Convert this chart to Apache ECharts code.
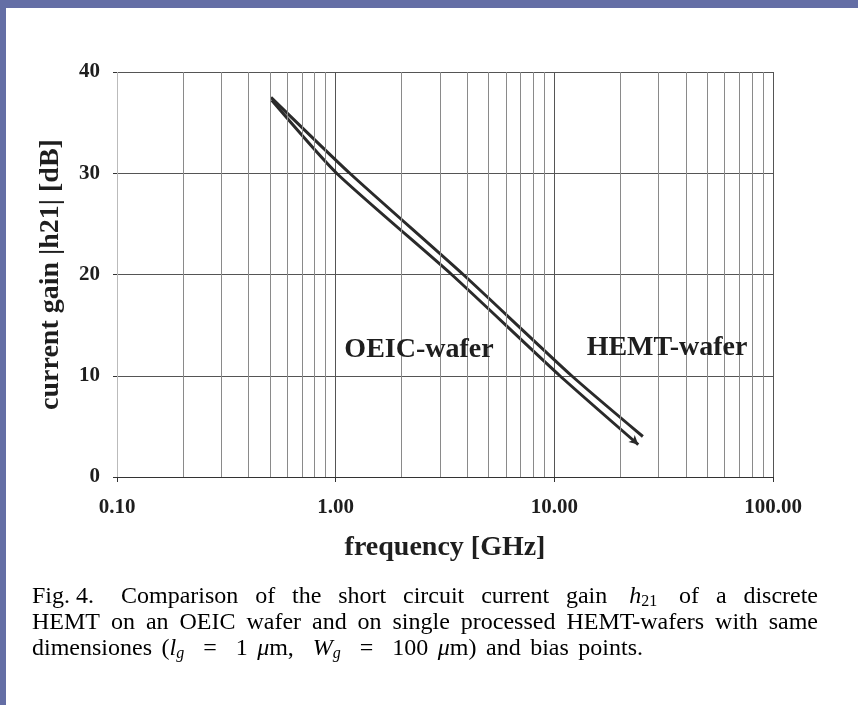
<!DOCTYPE html>
<html>
<head>
<meta charset="utf-8">
<script src="https://cdn.jsdelivr.net/npm/echarts@6.0.0/dist/echarts.min.js"></script>
<style>
  html, body { margin: 0; padding: 0; background: #fff; }
  #chart-container { width: 858px; height: 705px; }
</style>
</head>
<body>
<div id="chart-container"></div>
<script>
// values (frequency in GHz, gain in dB)
var oeicFreq = [0.51, 1.01, 3.39, 10.6, 24.2];
var oeicGain = [37.2, 30, 20, 10, 3.2];
var hemtFreq = [0.506, 1.16, 3.83, 12.0, 25.4];
var hemtGain = [37.5, 30, 20, 10, 4.0];

// axis ticks
var xMin = 0.1, xMax = 100;
var yMin = 0, yMax = 40, yStep = 10;
// thin vertical grid lines inside each decade
var minorGrid = [0.2, 0.3, 0.4, 0.5, 0.6, 0.7, 0.8, 0.9,
                 2, 3, 4, 5, 6, 7, 8, 9,
                 20, 30, 40, 50, 60, 70, 80, 90];

var serif = '"Liberation Serif", "Times New Roman", serif';
var ink = '#1e1e1e';

function pairs(xs, ys) {
  return xs.map(function (x, i) { return [x, ys[i]]; });
}

// little arrow head on the end of the OEIC curve
var oeicData = pairs(oeicFreq, oeicGain);
oeicData[oeicData.length - 1] = {
  value: oeicData[oeicData.length - 1],
  symbol: 'arrow', symbolSize: [7, 9], symbolRotate: -132,
  itemStyle: { color: '#2a2a2a' }
};

// caption, set word by word so the lines come out justified
var capSize = 24;
var rich = {
  n: { fontFamily: serif, fontSize: capSize, color: ink, lineHeight: 26 },
  i: { fontFamily: serif, fontSize: capSize, fontStyle: 'italic', color: ink, lineHeight: 26 },
  s: { fontFamily: serif, fontSize: 16, color: ink, lineHeight: 12, verticalAlign: 'bottom' },
  si: { fontFamily: serif, fontSize: 16, fontStyle: 'italic', color: ink, lineHeight: 12, verticalAlign: 'bottom' }
};
var captionLines = [
  { y: 597, left: 32, right: 818,
    words: ['Fig. 4.', 'Comparison', 'of', 'the', 'short', 'circuit', 'current', 'gain', '{i|h}{s|21}', 'of', 'a', 'discrete'],
    gaps: [1.6, 1, 1, 1, 1, 1, 1, 1.3, 1.3, 1, 1] },
  { y: 623, left: 32, right: 818,
    words: ['HEMT', 'on', 'an', 'OEIC', 'wafer', 'and', 'on', 'single', 'processed', 'HEMT-wafers', 'with', 'same'],
    gaps: [1, 1, 1, 1, 1, 1, 1, 1, 1, 1, 1] },
  { y: 649, left: 32, right: 643,
    words: ['dimensiones', '{n|(}{i|l}{si|g}', '=', '1', '{i|μ}{n|m,}', '{i|W}{si|g}', '=', '100', '{i|μ}{n|m)}', 'and', 'bias', 'points.'],
    gaps: [1, 2, 2, 1, 2, 2, 2, 1, 1, 1, 1] }
];

var ctx = document.createElement('canvas').getContext('2d');
function fragWidth(key, txt) {
  var st = rich[key];
  ctx.font = (st.fontStyle || 'normal') + ' ' + st.fontSize + 'px ' + st.fontFamily;
  return ctx.measureText(txt).width;
}
function wordWidth(w) {
  var re = /\{(\w+)\|([^}]*)\}/g, m, total = 0;
  while ((m = re.exec(w)) !== null) total += fragWidth(m[1], m[2]);
  return total;
}

var captionGraphics = [];
captionLines.forEach(function (line) {
  var words = line.words.map(function (w) { return w.indexOf('{') === 0 ? w : '{n|' + w + '}'; });
  var widths = words.map(wordWidth);
  var used = widths.reduce(function (a, b) { return a + b; }, 0);
  var wsum = line.gaps.reduce(function (a, b) { return a + b; }, 0);
  var unit = (line.right - line.left - used) / wsum;
  var x = line.left;
  words.forEach(function (w, k) {
    captionGraphics.push({
      type: 'text', x: x, y: line.y, silent: true,
      style: { text: w, rich: rich, align: 'left', verticalAlign: 'middle' }
    });
    x += widths[k] + (k < line.gaps.length ? line.gaps[k] * unit : 0);
  });
});

var dom = document.getElementById('chart-container');
var myChart = echarts.init(dom, null, { renderer: 'canvas' });

var option = {
  backgroundColor: '#ffffff',
  animation: false,
  grid: { left: 117, right: 85, top: 72, bottom: 228 },
  xAxis: {
    type: 'log',
    logBase: 10,
    min: xMin,
    max: xMax,
    name: 'frequency [GHz]',
    nameLocation: 'middle',
    nameGap: 57,
    nameTextStyle: { fontFamily: serif, fontWeight: 'bold', fontSize: 28, color: ink },
    axisLine: { show: true, lineStyle: { color: '#333', width: 1 } },
    axisTick: { show: true, length: 5, lineStyle: { color: '#333' } },
    axisLabel: {
      fontFamily: serif, fontWeight: 'bold', fontSize: 21, color: ink, margin: 20,
      showMinLabel: true, showMaxLabel: true,
      formatter: function (v) { return Number(v).toFixed(2); }
    },
    splitLine: { show: true, lineStyle: { color: ['#bbb', '#555', '#555', '#555'], width: 1 } }
  },
  yAxis: {
    type: 'value',
    min: yMin,
    max: yMax,
    interval: yStep,
    name: 'current gain |h21| [dB]',
    nameLocation: 'middle',
    nameRotate: 90,
    nameGap: 52,
    nameTextStyle: { fontFamily: serif, fontWeight: 'bold', fontSize: 28, color: ink },
    axisLine: { show: false },
    axisTick: { show: true, length: 4, lineStyle: { color: '#333' } },
    axisLabel: { fontFamily: serif, fontWeight: 'bold', fontSize: 21, color: ink, margin: 17 },
    splitLine: { show: true, lineStyle: { color: '#555', width: 1 } }
  },
  series: [
    {
      // decade subdivision lines
      type: 'line',
      data: [],
      silent: true,
      z: 1,
      markLine: {
        silent: true,
        symbol: ['none', 'none'],
        label: { show: false },
        lineStyle: { color: '#8a8a8a', width: 1, type: 'solid' },
        data: minorGrid.map(function (v) { return { xAxis: v }; })
      }
    },
    {
      name: 'OEIC-wafer',
      type: 'line',
      data: oeicData,
      symbol: 'none',
      showSymbol: true,
      smooth: 0.2,
      lineStyle: { color: '#2a2a2a', width: 3 },
      z: 3
    },
    {
      name: 'HEMT-wafer',
      type: 'line',
      data: pairs(hemtFreq, hemtGain),
      symbol: 'none',
      smooth: 0.2,
      lineStyle: { color: '#2a2a2a', width: 3 },
      z: 3
    }
  ],
  graphic: [
    // blue frame of the slide
    { type: 'rect', shape: { x: 0, y: 0, width: 858, height: 8 }, style: { fill: '#646ea5' }, silent: true },
    { type: 'rect', shape: { x: 0, y: 0, width: 6, height: 705 }, style: { fill: '#646ea5' }, silent: true },
    {
      type: 'text', x: 419, y: 350, silent: true, z: 10,
      style: { text: 'OEIC-wafer', fontFamily: serif, fontWeight: 'bold', fontSize: 28, fill: ink, align: 'center', verticalAlign: 'middle' }
    },
    {
      type: 'text', x: 667, y: 348, silent: true, z: 10,
      style: { text: 'HEMT-wafer', fontFamily: serif, fontWeight: 'bold', fontSize: 28, fill: ink, align: 'center', verticalAlign: 'middle' }
    }
  ].concat(captionGraphics)
};

myChart.setOption(option);
window.addEventListener('resize', myChart.resize);
</script>
</body>
</html>
